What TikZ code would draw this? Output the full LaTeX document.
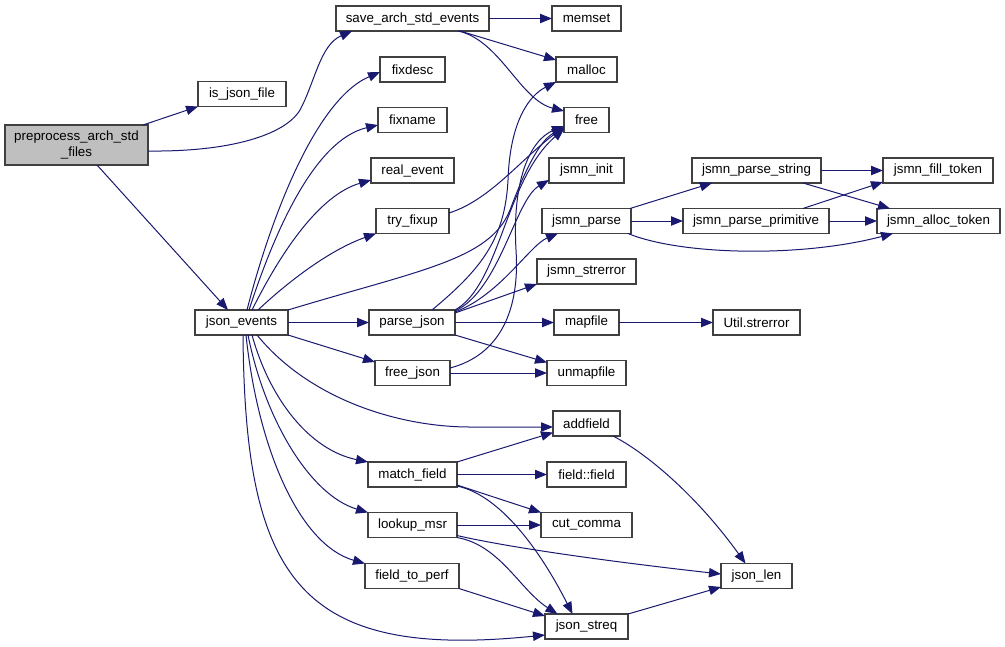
\documentclass[tikz,border=0pt]{standalone}
\usepackage{fontspec}
\setmainfont{Liberation Sans}
\usetikzlibrary{arrows.meta,calc}
\definecolor{edgeblue}{RGB}{25,25,112}
\definecolor{boxline}{RGB}{64,64,64}
\definecolor{grayfill}{RGB}{191,191,191}
\newcommand\bx[5]{\node[box,minimum width=#4*0.75pt] (#1) at (#2,#3) {#5};}
\begin{document}
\begin{tikzpicture}[x=0.75pt,y=-0.75pt,
  box/.style={draw=boxline,fill=white,line width=0.8pt,inner sep=0pt,outer sep=0pt,
    minimum height=18.75pt,font=\fontsize{10}{11.5}\selectfont,align=center},
  edge/.style={draw=edgeblue,line width=0.75pt,-{Triangle[length=9pt,width=7pt]}}]
\useasboundingbox (0,0) rectangle (1005,646);
\fill[white] (0,0) rectangle (1005,646);
% nodes
\node[box,fill=grayfill,minimum width=143*0.75pt,minimum height=40*0.75pt] (pre) at (76.5,145) {preprocess\_arch\_std\\\_files};
\bx{isjson}{242}{94}{88}{is\_json\_file}
\bx{je}{241.5}{322.5}{93}{json\_events}
\bx{save}{412.5}{18.5}{153}{save\_arch\_std\_events}
\bx{memset}{586.5}{18.5}{69}{memset}
\bx{fixdesc}{412.5}{69.5}{65}{fixdesc}
\bx{malloc}{586.5}{69.5}{61}{malloc}
\bx{fixname}{412.5}{120}{69}{fixname}
\bx{free}{586.5}{120}{45}{free}
\bx{realev}{412.5}{170.5}{83}{real\_event}
\bx{jinit}{586.5}{170.5}{75}{jsmn\_init}
\bx{tryfix}{412.5}{221}{73}{try\_fixup}
\bx{jparse}{586.5}{221}{89}{jsmn\_parse}
\bx{jstrerr}{586.5}{271.5}{99}{jsmn\_strerror}
\bx{pjson}{412}{322.5}{86}{parse\_json}
\bx{mapfile}{586.5}{322.5}{65}{mapfile}
\bx{fjson}{412.5}{373}{75}{free\_json}
\bx{unmap}{586.5}{373}{79}{unmapfile}
\bx{addf}{586.5}{423.5}{67}{addfield}
\bx{matchf}{412.5}{474.5}{89}{match\_field}
\bx{ffield}{586.5}{474.5}{79}{field::field}
\bx{lookup}{412.5}{525}{89}{lookup\_msr}
\bx{cutc}{586.5}{525}{91}{cut\_comma}
\bx{ftp}{412}{576}{94}{field\_to\_perf}
\bx{jstreq}{586.5}{626.5}{83}{json\_streq}
\bx{jlen}{756.5}{576}{71}{json\_len}
\bx{jpstr}{756.5}{170.5}{129}{jsmn\_parse\_string}
\bx{jpprim}{756}{221}{146}{jsmn\_parse\_primitive}
\bx{utilerr}{756.5}{322.5}{87}{Util.strerror}
\bx{jfill}{938}{170.5}{110}{jsmn\_fill\_token}
\bx{jalloc}{938.5}{221}{123}{jsmn\_alloc\_token}
% edges
\path[edge] ($(pre.north east)+(-5,0)$) -- (isjson.south west);
\path[edge] ($(pre.east)+(0,6)$) .. controls (230,152) and (285,135) .. (300,110) .. controls (315,82) and (320,45) .. ($(save.south west)+(16,0)$);
\path[edge] ($(pre.south)+(20.5,0)$) -- ($(je.north)+(-13.5,0)$);
\path[edge] (save.east) -- (memset.west);
\path[edge] ($(save.south east)+(-29,0)$) -- ($(malloc.west)+(0,-9.5)$);
\path[edge] ($(save.south east)+(-31,0)$) .. controls (500,40) and (520,100) .. ($(free.west)+(0,-9)$);
\path[edge] ($(je.north)+(5.5,0)$) .. controls (270,220) and (315,100) .. ($(fixdesc.west)+(0,2.5)$);
\path[edge] ($(je.north)+(7.5,0)$) .. controls (275,230) and (315,140) .. ($(fixname.west)+(0,5)$);
\path[edge] ($(je.north)+(10.5,0)$) .. controls (282,250) and (320,195) .. ($(realev.west)+(0,9.5)$);
\path[edge] ($(je.north)+(16.5,0)$) .. controls (290,280) and (330,250) .. (tryfix.south west);
\path[edge] (je.north east) .. controls (420,270) and (490,260) .. (510,210) .. controls (525,170) and (540,140) .. ($(free.west)+(0,8)$);
\path[edge] (je.east) -- (pjson.west);
\path[edge] (je.south east) -- ($(fjson.north west)+(0,1.5)$);
\path[edge] ($(je.south)+(15.5,0)$) .. controls (310,400) and (400,427) .. (470,427) -- ($(addf.west)+(0,3.5)$);
\path[edge] ($(je.south)+(10.5,0)$) .. controls (270,400) and (310,450) .. (matchf.north west);
\path[edge] ($(je.south)+(6.5,0)$) .. controls (265,420) and (310,495) .. (lookup.north west);
\path[edge] ($(je.south)+(4.5,0)$) .. controls (258,450) and (300,545) .. (ftp.north west);
\path[edge] ($(je.south)+(1.5,0)$) .. controls (245,580) and (300,660) .. ($(jstreq.west)+(0,8.5)$);
\path[edge] ($(tryfix.east)+(0,-8)$) .. controls (490,200) and (520,160) .. ($(free.west)+(0,7)$);
\path[edge] ($(pjson.north)+(20,0)$) .. controls (480,270) and (505,240) .. (508,180) .. controls (510,120) and (530,95) .. (malloc.south west);
\path[edge] (pjson.north east) .. controls (500,285) and (505,180) .. ($(free.west)+(0,9)$);
\path[edge] ($(pjson.north east)+(0,1)$) .. controls (500,290) and (515,200) .. ($(jinit.west)+(0,9.5)$);
\path[edge] ($(pjson.north east)+(0,2)$) .. controls (500,295) and (530,245) .. ($(jparse.south west)+(16,0)$);
\path[edge] ($(pjson.north east)+(0,3)$) -- (jstrerr.south west);
\path[edge] (pjson.east) -- (mapfile.west);
\path[edge] (pjson.south east) -- ($(unmap.north west)+(0,2)$);
\path[edge] ($(fjson.east)+(0,-5)$) .. controls (500,355) and (520,310) .. (516,250) .. controls (512,180) and (530,140) .. ($(free.west)+(0,6)$);
\path[edge] (fjson.east) -- (unmap.west);
\path[edge] (mapfile.east) -- (utilerr.west);
\path[edge] ($(jparse.north east)+(-1,0)$) -- ($(jpstr.south west)+(20,0)$);
\path[edge] (jparse.east) -- (jpprim.west);
\path[edge] ($(jparse.south east)+(-3,0)$) .. controls (680,255) and (800,258) .. ($(jalloc.south west)+(16,0)$);
\path[edge] (jpstr.east) -- (jfill.west);
\path[edge] ($(jpstr.south east)+(-18,0)$) -- ($(jalloc.north west)+(13,0)$);
\path[edge] ($(jpprim.north east)+(-26,0)$) -- ($(jfill.south west)+(0,-1)$);
\path[edge] (jpprim.east) -- (jalloc.west);
\path[edge] (matchf.north east) -- ($(addf.west)+(0,9)$);
\path[edge] (matchf.east) -- (ffield.west);
\path[edge] ($(matchf.south east)+(0,-2)$) -- (cutc.north west);
\path[edge] ($(matchf.south east)+(0,-1)$) .. controls (500,495) and (540,550) .. ($(jstreq.north)+(-14,0)$);
\path[edge] (lookup.east) -- (cutc.west);
\path[edge] ($(lookup.south east)+(0,-2)$) .. controls (520,550) and (640,565) .. ($(jlen.west)+(0,-2)$);
\path[edge] (lookup.south east) .. controls (500,545) and (520,590) .. ($(jstreq.north)+(-29,0)$);
\path[edge] (ftp.south east) -- ($(jstreq.north west)+(0,2)$);
\path[edge] (jstreq.north east) -- ($(jlen.west)+(0,11)$);
\path[edge] ($(addf.south east)+(-7,0)$) .. controls (650,455) and (700,500) .. ($(jlen.north)+(-11,0)$);
\end{tikzpicture}
\end{document}
